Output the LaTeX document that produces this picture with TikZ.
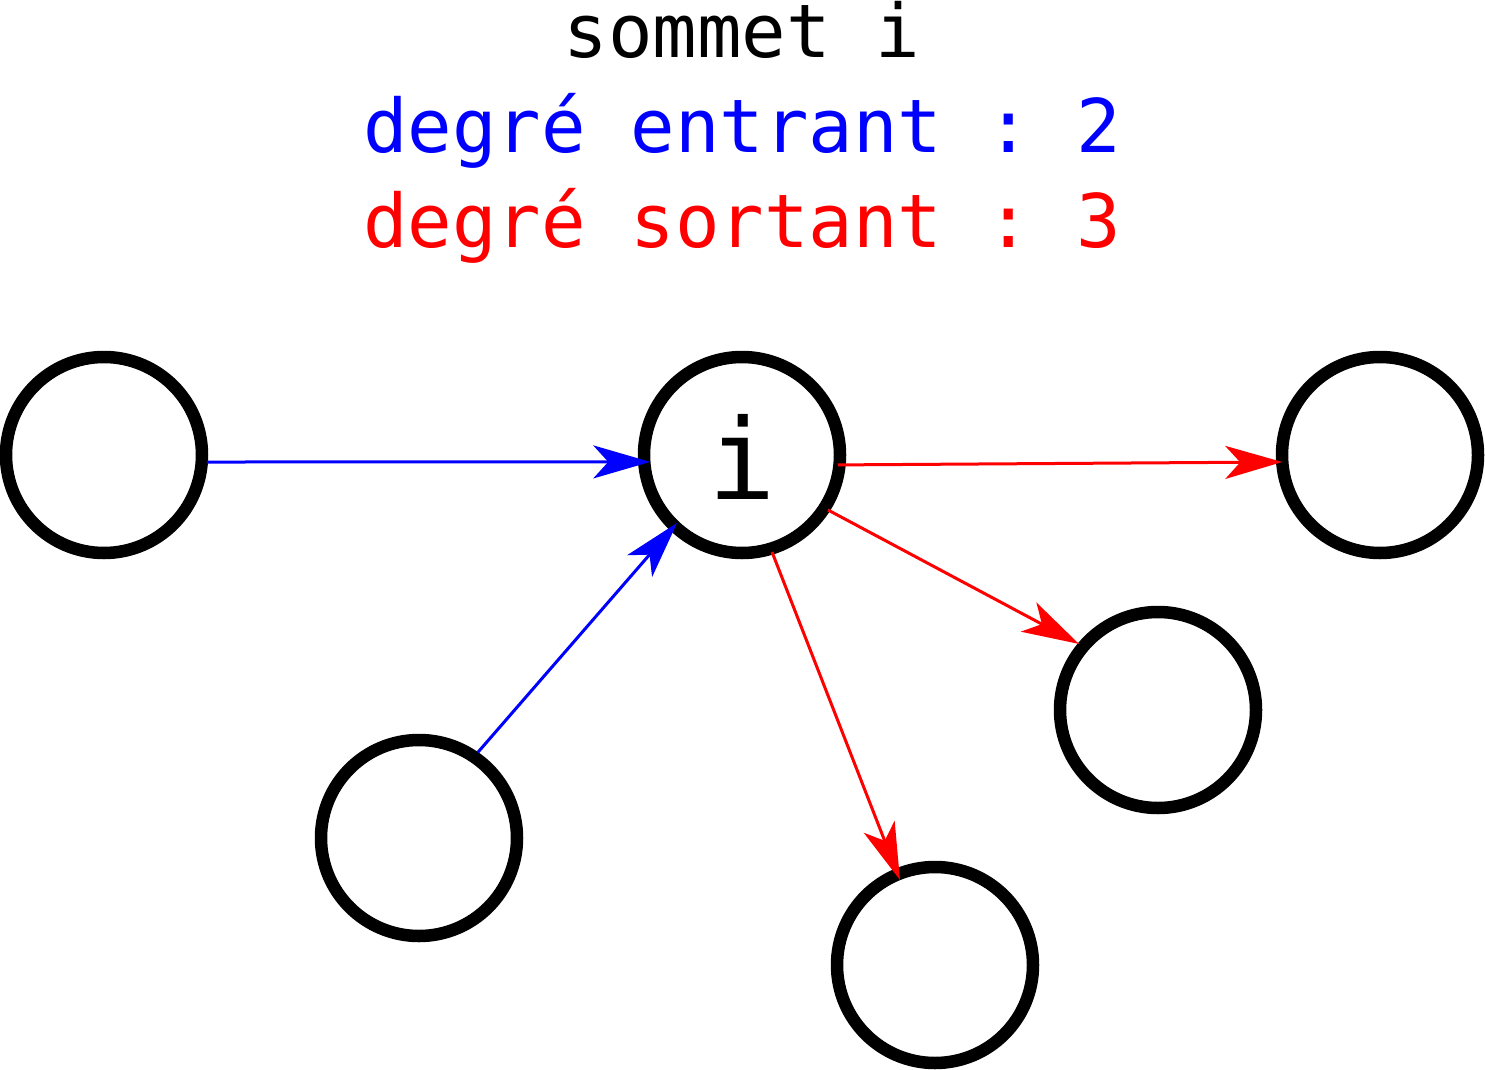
\documentclass[tikz,border=0pt]{standalone}
\usepackage{fontspec}
\setmonofont{DejaVu Sans Mono}
\usetikzlibrary{arrows.meta,calc}
\begin{document}
\begin{tikzpicture}[x=1pt,y=-1pt,
  vertex/.style={circle,draw=black,line width=12.5pt,minimum size=196pt,inner sep=0pt},
  title/.style={anchor=base,inner sep=0pt,font=\ttfamily\fontsize{74}{94}\selectfont},
  edge/.style={line width=3pt,-{Stealth[length=57pt,width=33pt,inset=15pt]}}]
\useasboundingbox (0,0) rectangle (1485,1070);
\node[title,text=black] (t1) at (742,58) {sommet i};
\node[title,text=blue] (t2) at (742,153) {degré entrant : 2};
\node[title,text=red] (t3) at (742,247) {degré sortant : 3};
\node[vertex] (L) at (104,455) {};
\node[vertex] (I) at (742,455) {};
\node[anchor=base,inner sep=0pt,font=\ttfamily\fontsize{112}{112}\selectfont] (ilabel) at (742,499) {i};
\node[vertex] (R) at (1380,455) {};
\node[vertex] (BL) at (419,838) {};
\node[vertex] (BM) at (935,965) {};
\node[vertex] (RM) at (1158,710) {};
\draw[edge,blue] ($(L)+(3.9:103)$) -- ($(I)+(175.7:92)$);
\draw[edge,blue] ($(BL)+(-55.5:104)$) -- ($(I)+(133.7:94)$);
\draw[edge,red] ($(I)+(5.9:96.5)$) -- ($(R)+(175.9:98)$);
\draw[edge,red] ($(I)+(32.6:102)$) -- ($(RM)+(-140.1:103)$);
\draw[edge,red] ($(I)+(72.8:101.5)$) -- ($(BM)+(-112.4:92)$);
\end{tikzpicture}
\end{document}
